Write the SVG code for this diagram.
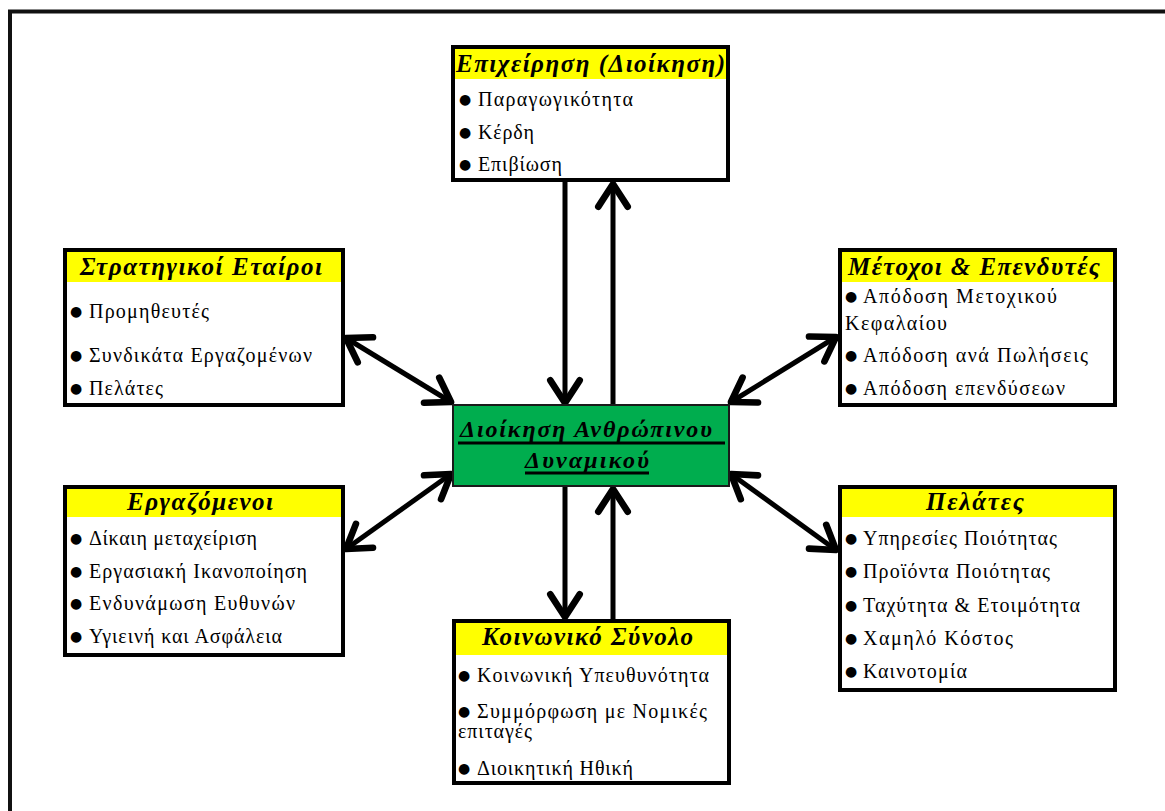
<svg xmlns="http://www.w3.org/2000/svg" width="1165" height="811" viewBox="0 0 1165 811">
  <style>
    .box { fill: #ffffff; stroke: #000000; stroke-width: 4; }
    .head { fill: #ffff00; }
    .core { fill: #00ad4e; stroke: #1a1a1a; stroke-width: 2; }
    .h { font-family: "Liberation Serif", "Times New Roman", serif; font-style: italic; font-weight: bold; font-size: 25px; fill: #000; text-anchor: middle; }
    .c { font-size: 24px; }
    .t { font-family: "Liberation Serif", "Times New Roman", serif; font-size: 20px; fill: #000; }
    .b { font-family: "DejaVu Sans", sans-serif; font-size: 14px; fill: #000; text-anchor: middle; }
    .link { stroke: #000; stroke-width: 5; fill: none; }
    .ul { stroke: #000; stroke-width: 3; }
  </style>
  <defs>
    <marker id="head" markerUnits="userSpaceOnUse" markerWidth="40" markerHeight="40" refX="0" refY="0" viewBox="-22 -15 26 30" orient="auto-start-reverse" overflow="visible">
      <path d="M -17 -11 L 0 0 L -17 11" fill="none" stroke="#000" stroke-width="5" stroke-linecap="round" stroke-linejoin="round"/>
    </marker>
  </defs>

  <!-- page frame -->
  <path d="M 10 811 L 10 11.5 L 1165 11.5" fill="none" stroke="#111" stroke-width="4"/>

  <!-- connectors -->
  <g id="connectors">
    <line class="link" x1="565" y1="182" x2="565" y2="403" marker-end="url(#head)"/>
    <line class="link" x1="613" y1="405" x2="613" y2="184" marker-end="url(#head)"/>
    <line class="link" x1="565" y1="487" x2="565" y2="617" marker-end="url(#head)"/>
    <line class="link" x1="613" y1="619" x2="613" y2="489" marker-end="url(#head)"/>
    <line class="link" x1="346" y1="338" x2="451" y2="402" marker-start="url(#head)" marker-end="url(#head)"/>
    <line class="link" x1="836" y1="337" x2="731" y2="402" marker-start="url(#head)" marker-end="url(#head)"/>
    <line class="link" x1="346" y1="549" x2="451" y2="474" marker-start="url(#head)" marker-end="url(#head)"/>
    <line class="link" x1="836" y1="550" x2="731" y2="474" marker-start="url(#head)" marker-end="url(#head)"/>
  </g>

  <!-- centre: human resource management -->
  <g id="hrm">
    <rect class="core" x="453" y="405" width="276" height="81"/>
    <text class="h c" x="586" y="437" textLength="252">Διοίκηση Ανθρώπινου</text>
    <line class="ul" x1="458" y1="443" x2="725" y2="443"/>
    <text class="h c" x="587" y="468" textLength="124">Δυναμικού</text>
    <line class="ul" x1="525" y1="473" x2="649" y2="473"/>
  </g>

  <!-- top: business (management) -->
  <g id="business">
    <rect class="box" x="453" y="47" width="275" height="133"/>
    <rect class="head" x="455" y="49" width="271" height="30"/>
    <text class="h" x="590.5" y="72" textLength="269">Επιχείρηση (Διοίκηση)</text>
    <text class="b" x="465" y="104">●</text>
    <text class="t" x="478" y="106" textLength="155">Παραγωγικότητα</text>
    <text class="b" x="465" y="137">●</text>
    <text class="t" x="478" y="139" textLength="56">Κέρδη</text>
    <text class="b" x="465" y="169">●</text>
    <text class="t" x="478" y="171" textLength="84">Επιβίωση</text>
  </g>

  <!-- upper left: strategic partners -->
  <g id="partners">
    <rect class="box" x="65" y="250" width="278" height="155"/>
    <rect class="head" x="67" y="252" width="274" height="30"/>
    <text class="h" x="201" y="275" textLength="242">Στρατηγικοί Εταίροι</text>
    <text class="b" x="76" y="316">●</text>
    <text class="t" x="89" y="318" textLength="120">Προμηθευτές</text>
    <text class="b" x="76" y="360">●</text>
    <text class="t" x="89" y="362" textLength="223">Συνδικάτα Εργαζομένων</text>
    <text class="b" x="76" y="393">●</text>
    <text class="t" x="89" y="395" textLength="74">Πελάτες</text>
  </g>

  <!-- upper right: shareholders and investors -->
  <g id="shareholders">
    <rect class="box" x="840" y="250" width="275" height="155"/>
    <rect class="head" x="842" y="252" width="271" height="30"/>
    <text class="h" x="974" y="275" textLength="252">Μέτοχοι &amp; Επενδυτές</text>
    <text class="b" x="851" y="301">●</text>
    <text class="t" x="863" y="303" textLength="194">Απόδοση Μετοχικού</text>
    <text class="t" x="845" y="330" textLength="102">Κεφαλαίου</text>
    <text class="b" x="851" y="360">●</text>
    <text class="t" x="863" y="362" textLength="225">Απόδοση ανά Πωλήσεις</text>
    <text class="b" x="851" y="393">●</text>
    <text class="t" x="863" y="395" textLength="202">Απόδοση επενδύσεων</text>
  </g>

  <!-- lower left: employees -->
  <g id="employees">
    <rect class="box" x="65" y="487" width="278" height="168"/>
    <rect class="head" x="67" y="489" width="274" height="28"/>
    <text class="h" x="200" y="510" textLength="146">Εργαζόμενοι</text>
    <text class="b" x="76" y="543">●</text>
    <text class="t" x="89" y="545" textLength="168">Δίκαιη μεταχείριση</text>
    <text class="b" x="76" y="576">●</text>
    <text class="t" x="89" y="578" textLength="218">Εργασιακή Ικανοποίηση</text>
    <text class="b" x="76" y="608">●</text>
    <text class="t" x="89" y="610" textLength="206">Ενδυνάμωση Ευθυνών</text>
    <text class="b" x="76" y="641">●</text>
    <text class="t" x="89" y="643" textLength="193">Υγιεινή και Ασφάλεια</text>
  </g>

  <!-- lower right: customers -->
  <g id="customers">
    <rect class="box" x="840" y="487" width="275" height="203"/>
    <rect class="head" x="842" y="489" width="271" height="28"/>
    <text class="h" x="975" y="510" textLength="98">Πελάτες</text>
    <text class="b" x="851" y="543">●</text>
    <text class="t" x="863" y="545" textLength="194">Υπηρεσίες Ποιότητας</text>
    <text class="b" x="851" y="576">●</text>
    <text class="t" x="863" y="578" textLength="187">Προϊόντα Ποιότητας</text>
    <text class="b" x="851" y="610">●</text>
    <text class="t" x="863" y="612" textLength="217">Ταχύτητα &amp; Ετοιμότητα</text>
    <text class="b" x="851" y="643">●</text>
    <text class="t" x="863" y="645" textLength="150">Χαμηλό Κόστος</text>
    <text class="b" x="851" y="676">●</text>
    <text class="t" x="863" y="678" textLength="104">Καινοτομία</text>
  </g>

  <!-- bottom: society -->
  <g id="society">
    <rect class="box" x="454" y="621" width="275" height="162"/>
    <rect class="head" x="456" y="623" width="271" height="32"/>
    <text class="h" x="587.5" y="645" textLength="211">Κοινωνικό Σύνολο</text>
    <text class="b" x="464" y="680">●</text>
    <text class="t" x="477" y="682" textLength="232">Κοινωνική Υπευθυνότητα</text>
    <text class="b" x="464" y="716">●</text>
    <text class="t" x="477" y="718" textLength="230">Συμμόρφωση με Νομικές</text>
    <text class="t" x="458" y="738" textLength="74">επιταγές</text>
    <text class="b" x="464" y="773">●</text>
    <text class="t" x="477" y="775" textLength="156">Διοικητική Ηθική</text>
  </g>
</svg>
